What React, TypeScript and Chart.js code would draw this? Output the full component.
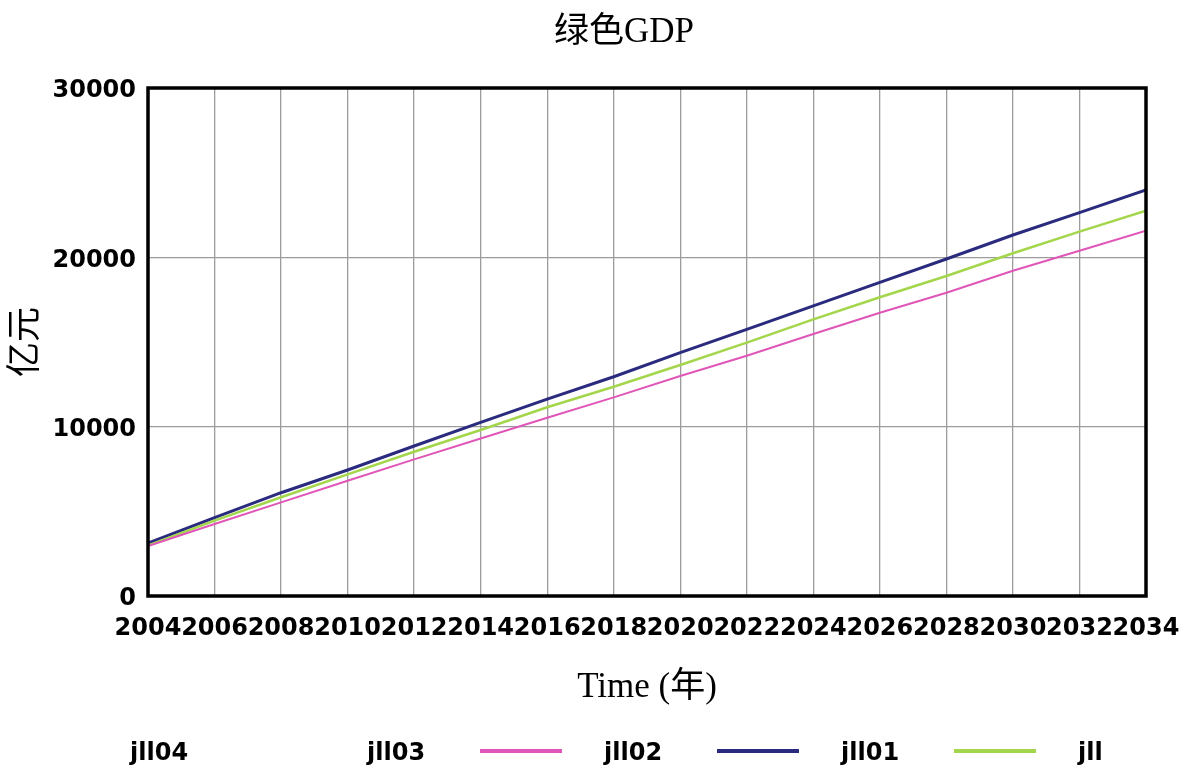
import React, { useEffect, useRef } from "react";
import { Chart, registerables } from "chart.js";

Chart.register(...registerables);

const years = [2004, 2006, 2008, 2010, 2012, 2014, 2016, 2018, 2020, 2022, 2024, 2026, 2028, 2030, 2032, 2034];
const jll02 = [3130, 4625, 6100, 7440, 8860, 10250, 11630, 12950, 14370, 15750, 17130, 18520, 19900, 21320, 22640, 23980];
const jll01 = [2980, 4450, 5830, 7185, 8520, 9800, 11150, 12360, 13640, 14960, 16340, 17640, 18900, 20240, 21520, 22760];
const jll03 = [2950, 4250, 5530, 6810, 8070, 9300, 10530, 11730, 12990, 14190, 15470, 16730, 17910, 19210, 20390, 21570];
const legendNames = ["jll04", "jll03", "jll02", "jll01", "jll"];
const legendColors = ["rgba(0,0,0,0)", "#e056b8", "#2a2a7e", "#a4d64c", "rgba(0,0,0,0)"];
const yTicks = [0, 10000, 20000, 30000];

const TITLE = "绿色GDP";
const Y_TITLE = "亿元";
const X_TITLE = "Time (年)";

const serif = "'Liberation Serif', 'Noto Sans CJK SC', serif";
const sans = "'DejaVu Sans', sans-serif";

const decorPlugin = {
  id: "decor",
  afterDatasetsDraw(chart: any) {
    const { ctx, chartArea } = chart;
    ctx.save();
    ctx.strokeStyle = "#000";
    ctx.lineWidth = 3.5;
    ctx.strokeRect(chartArea.left, chartArea.top, chartArea.right - chartArea.left, chartArea.bottom - chartArea.top);
    ctx.restore();
  },
  afterDraw(chart: any) {
    const { ctx } = chart;
    ctx.save();
    ctx.fillStyle = "#000";
    ctx.font = `35px ${serif}`;
    ctx.textAlign = "center";
    ctx.textBaseline = "middle";
    ctx.fillText(TITLE, 624, 33);
    ctx.font = `bold 24px ${sans}`;
    ctx.textAlign = "left";
    legendNames.forEach((name, i) => {
      const x = 130 + i * 237;
      const y = 751;
      ctx.fillStyle = "#000";
      ctx.fillText(name, x, y + 3);
      ctx.strokeStyle = legendColors[i];
      ctx.lineWidth = 4;
      ctx.beginPath();
      ctx.moveTo(x + 113, y);
      ctx.lineTo(x + 195, y);
      ctx.stroke();
    });
    ctx.restore();
  },
};

export default function App() {
  const ref = useRef<HTMLCanvasElement | null>(null);
  useEffect(() => {
    if (!ref.current) return;
    const mk = (arr: number[]) => years.map((x, i) => ({ x, y: arr[i] }));
    const chart = new Chart(ref.current, {
      type: "line",
      data: {
        datasets: [
          { label: "jll03", data: mk(jll03), borderColor: legendColors[1], borderWidth: 2, pointRadius: 0, tension: 0 },
          { label: "jll01", data: mk(jll01), borderColor: legendColors[3], borderWidth: 2.5, pointRadius: 0, tension: 0 },
          { label: "jll02", data: mk(jll02), borderColor: legendColors[2], borderWidth: 3, pointRadius: 0, tension: 0 },
        ],
      },
      options: {
        animation: false,
        responsive: false,
        layout: { autoPadding: false, padding: { top: 88, right: 41, bottom: 56, left: 0 } },
        plugins: { legend: { display: false }, title: { display: false }, tooltip: { enabled: false } },
        scales: {
          x: {
            type: "linear",
            min: years[0],
            max: years[years.length - 1],
            afterFit: (s: any) => { s.height = 120; s.paddingLeft = 0; s.paddingRight = 0; },
            afterBuildTicks: (s: any) => { s.ticks = years.map((v) => ({ value: v })); },
            ticks: {
              autoSkip: false,
              maxRotation: 0,
              minRotation: 0,
              padding: 18,
              color: "#000",
              font: { family: sans, size: 24, weight: "bold" },
              callback: (v: any) => String(v),
            },
            grid: { color: "#9c9c9c", lineWidth: 1.3, drawTicks: false },
            border: { display: false },
            title: { display: true, text: X_TITLE, color: "#000", font: { family: serif, size: 35 }, padding: { top: 0, bottom: 7 } },
          },
          y: {
            min: 0,
            max: 30000,
            afterFit: (s: any) => { s.width = 148; s.paddingTop = 0; s.paddingBottom = 0; },
            afterBuildTicks: (s: any) => { s.ticks = yTicks.map((v) => ({ value: v })); },
            ticks: {
              padding: 12,
              labelOffset: 3,
              color: "#000",
              font: { family: sans, size: 24, weight: "bold" },
              callback: (v: any) => String(v),
            },
            grid: { color: "#9c9c9c", lineWidth: 1.3, drawTicks: false },
            border: { display: false },
            title: { display: true, text: Y_TITLE, color: "#000", font: { family: serif, size: 35 }, padding: { top: 6, bottom: 0 } },
          },
        },
      },
      plugins: [decorPlugin],
    });
    return () => chart.destroy();
  }, []);
  return (
    <div style={{ position: "fixed", left: 0, top: 0, width: 1187, height: 772, background: "#fff" }}>
      <canvas ref={ref} width={1187} height={772} />
    </div>
  );
}
